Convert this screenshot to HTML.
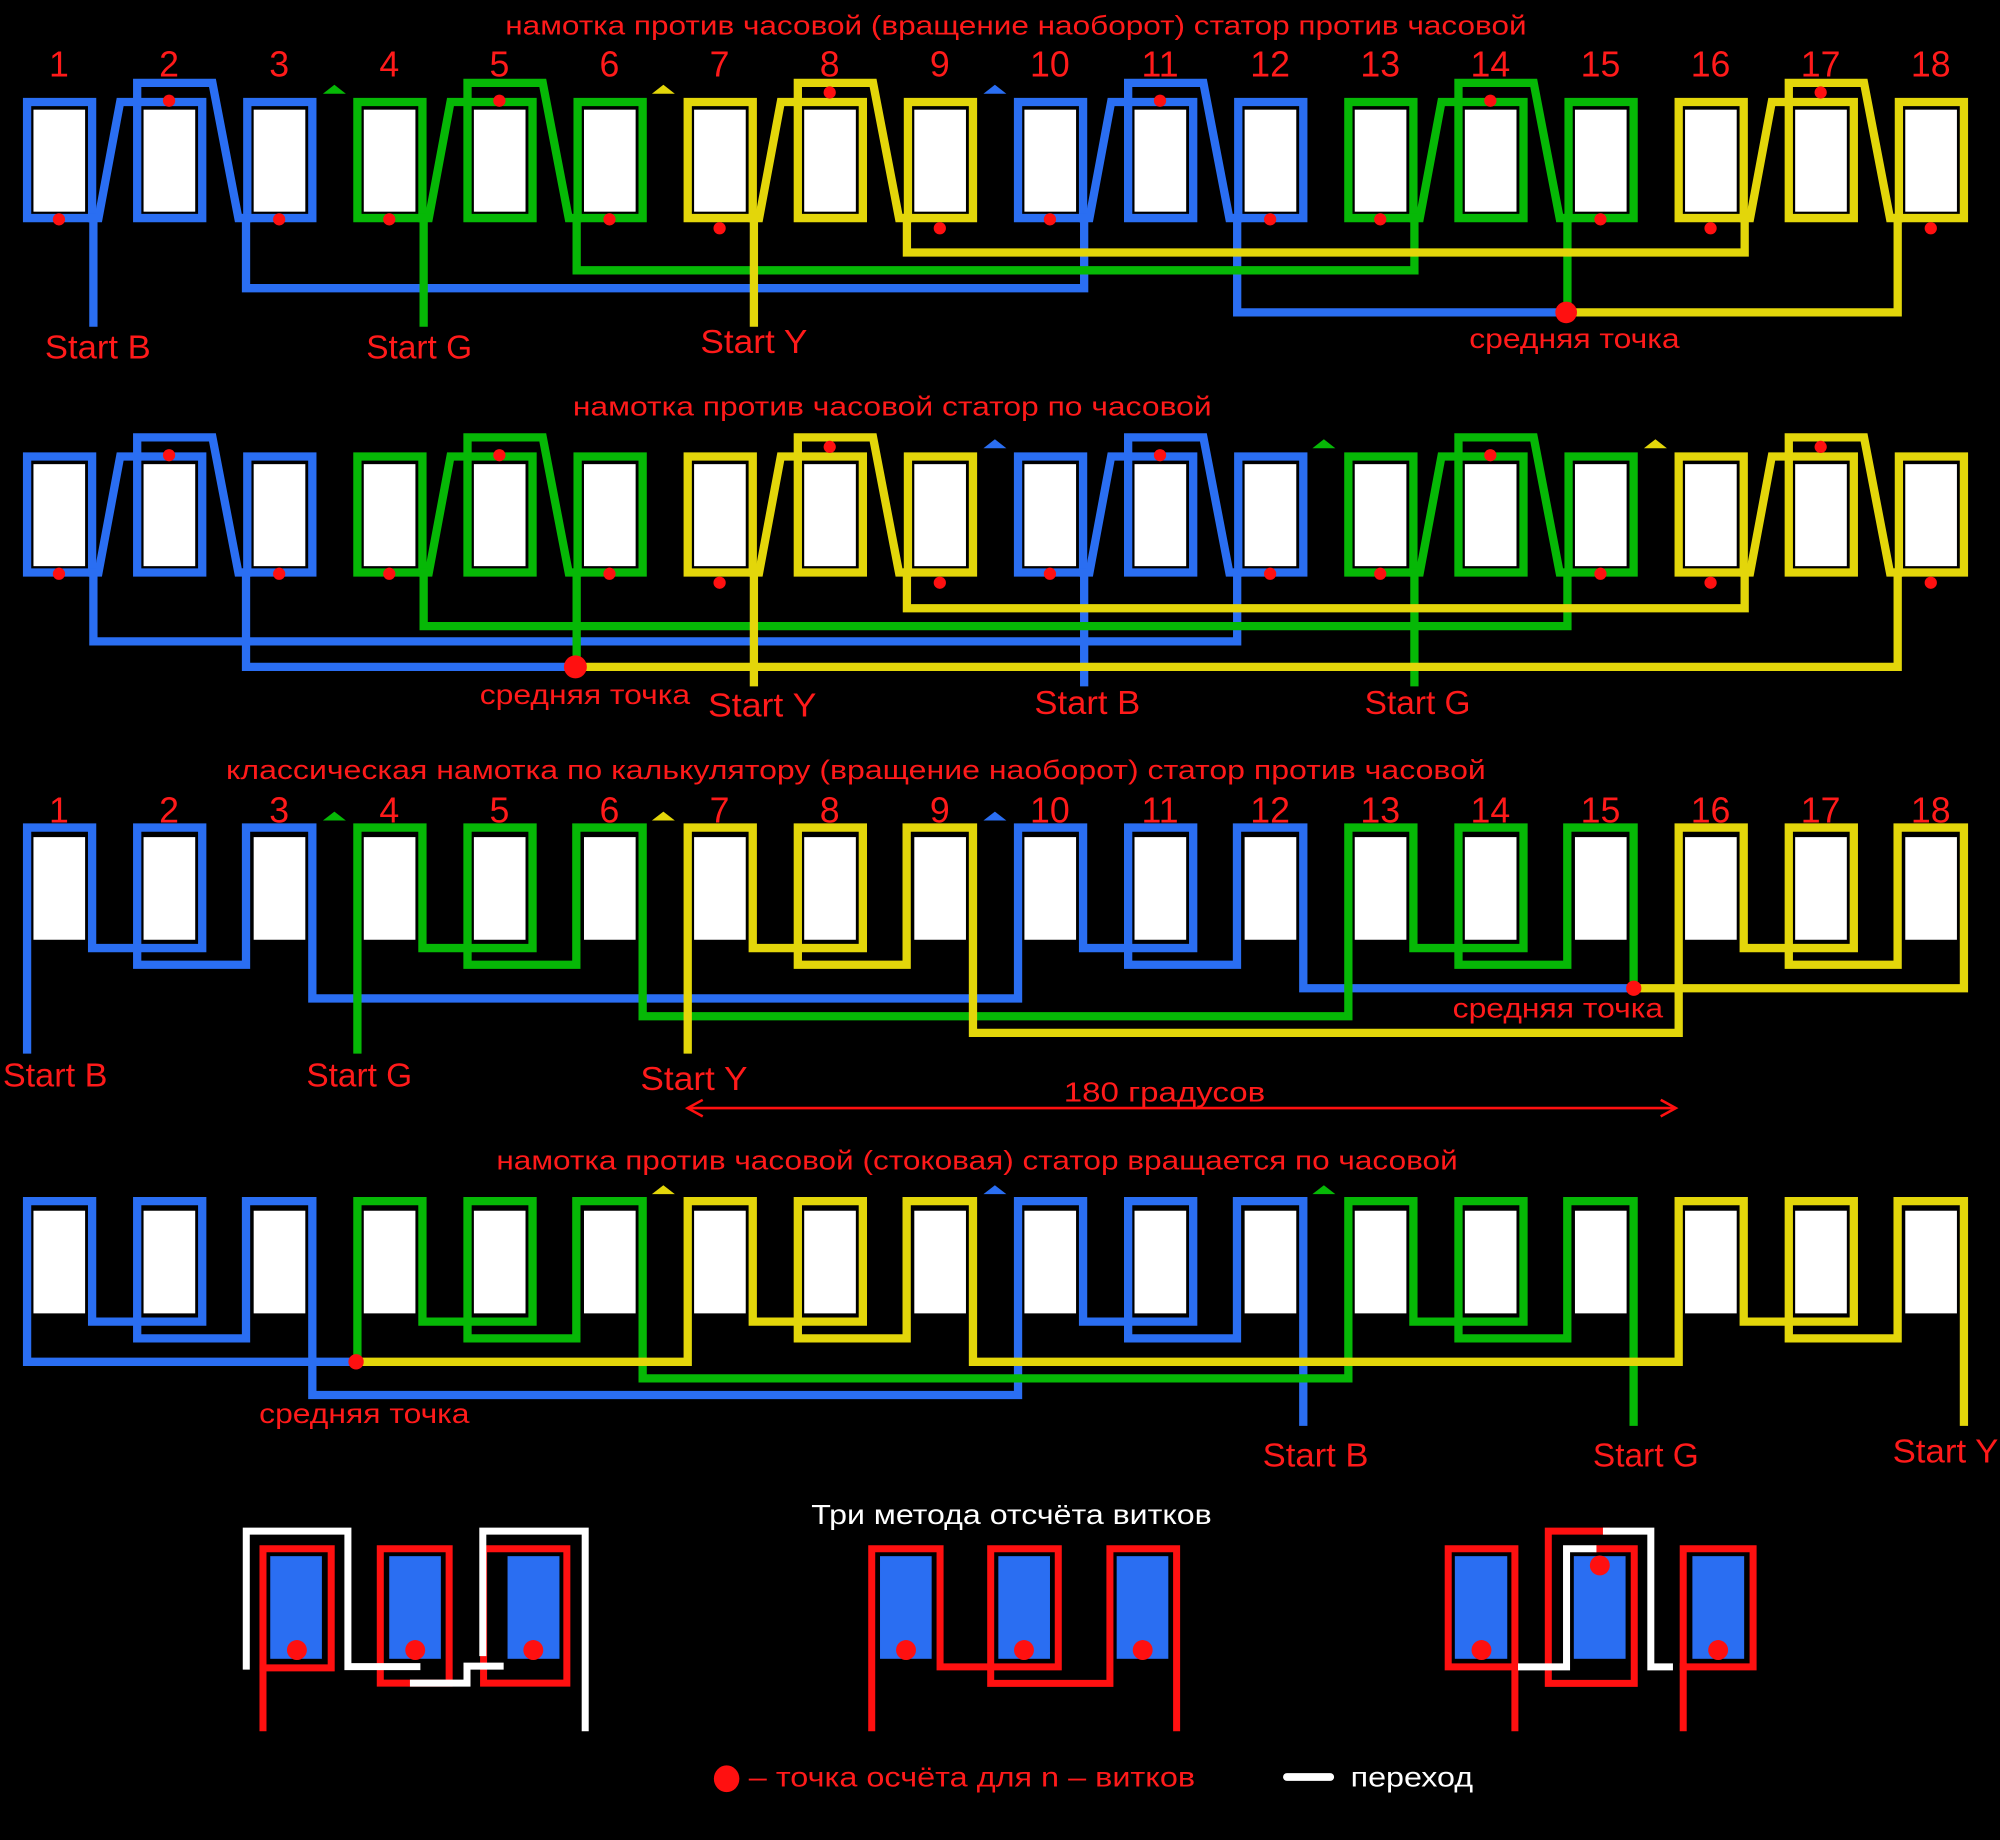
<!DOCTYPE html>
<html><head><meta charset="utf-8">
<style>
html,body{margin:0;padding:0;background:#000;}
svg{display:block;}
text{font-family:"Liberation Sans Narrow","Liberation Sans",sans-serif;}
</style></head>
<body>
<svg id="s" xmlns="http://www.w3.org/2000/svg" width="2000" height="1840" viewBox="0 0 1568 1443">
<rect x="0" y="0" width="1568" height="1443" fill="#000"/>
<g id="shapes"></g>
<g fill="#ff1a1a" font-size="21">
<text x="396" y="27" textLength="801" lengthAdjust="spacingAndGlyphs">намотка против часовой  (вращение наоборот) статор против часовой</text>
<text x="449" y="326" textLength="501" lengthAdjust="spacingAndGlyphs">намотка против часовой  статор по часовой</text>
<text x="177" y="611" textLength="988" lengthAdjust="spacingAndGlyphs">классическая намотка по калькулятору  (вращение наоборот) статор против часовой</text>
<text x="389" y="917" textLength="754" lengthAdjust="spacingAndGlyphs">намотка против часовой (стоковая) статор вращается по часовой</text>
</g>
<g id="nums" fill="#ff1a1a" font-size="28" text-anchor="middle"></g>
<g fill="#ff1a1a" font-size="26">
<text x="35" y="281" textLength="83" lengthAdjust="spacingAndGlyphs">Start B</text>
<text x="287" y="281" textLength="83" lengthAdjust="spacingAndGlyphs">Start G</text>
<text x="549" y="277" textLength="84" lengthAdjust="spacingAndGlyphs">Start Y</text>
<text x="555" y="562" textLength="85" lengthAdjust="spacingAndGlyphs">Start Y</text>
<text x="811" y="560" textLength="83" lengthAdjust="spacingAndGlyphs">Start B</text>
<text x="1070" y="560" textLength="83" lengthAdjust="spacingAndGlyphs">Start G</text>
<text x="2" y="852" textLength="82" lengthAdjust="spacingAndGlyphs">Start B</text>
<text x="240" y="852" textLength="83" lengthAdjust="spacingAndGlyphs">Start G</text>
<text x="502" y="855" textLength="84" lengthAdjust="spacingAndGlyphs">Start Y</text>
<text x="990" y="1150" textLength="83" lengthAdjust="spacingAndGlyphs">Start B</text>
<text x="1249" y="1150" textLength="83" lengthAdjust="spacingAndGlyphs">Start G</text>
<text x="1484" y="1147" textLength="83" lengthAdjust="spacingAndGlyphs">Start Y</text>
</g>
<g fill="#ff1a1a" font-size="22">
<text x="1152" y="273" textLength="165" lengthAdjust="spacingAndGlyphs">средняя точка</text>
<text x="376" y="552" textLength="165" lengthAdjust="spacingAndGlyphs">средняя точка</text>
<text x="1139" y="798" textLength="165" lengthAdjust="spacingAndGlyphs">средняя точка</text>
<text x="203" y="1116" textLength="165" lengthAdjust="spacingAndGlyphs">средняя точка</text>
<text x="834" y="864" textLength="158" lengthAdjust="spacingAndGlyphs">180 градусов</text>
<text x="587" y="1401" textLength="350" lengthAdjust="spacingAndGlyphs">– точка осчёта для  n – витков</text>
</g>
<text x="636" y="1195" fill="#fff" font-size="22" textLength="314" lengthAdjust="spacingAndGlyphs">Три метода отсчёта витков</text>
<text x="1059" y="1401" fill="#fff" font-size="22" textLength="96" lengthAdjust="spacingAndGlyphs">переход</text>
</svg>
<script>
(function(){
var NS="http://www.w3.org/2000/svg";
var G=document.getElementById("shapes");
function el(t,a,p){var e=document.createElementNS(NS,t);for(var k in a)e.setAttribute(k,a[k]);(p||G).appendChild(e);return e;}
var B="#2a6ef2",GR="#06b806",Y="#e3d60a",R="#ff1010",W="#ffffff";
function cx(i){return 46+(i-1)*86.35;}
function path(d,c,w){el("path",{d:d,fill:"none",stroke:c,"stroke-width":w||6.5,"stroke-linejoin":"miter","stroke-linecap":"square"});}
function tri(x,y,c){el("polygon",{points:(x-9)+","+(y+3.5)+" "+x+","+(y-3.5)+" "+(x+9)+","+(y+3.5),fill:c});}
function dot(x,y,r,c){el("circle",{cx:x,cy:y,r:r,fill:c});}
var col=function(i){var g=Math.floor((i-1)/3)%3;return [B,GR,Y][g];};
// nums
var N=document.getElementById("nums");
for(var i=1;i<=18;i++){[60,645].forEach(function(y){var t=el("text",{x:cx(i),y:y},N);t.textContent=i;});}
// sections 1,2 : lapped coils
[0,278].forEach(function(dy){
 for(var i=1;i<=18;i++) el("rect",{x:cx(i)-20,y:86+dy,width:40.5,height:80,fill:"#fff"});
 for(var g=0;g<6;g++){
  var a=cx(g*3+1),b=cx(g*3+2),c=cx(g*3+3),k=col(g*3+1);
  var T=80+dy,Bt=171+dy,O=65+dy;
  path("M"+(a-25)+","+T+"H"+(a+26)+"V"+Bt+"H"+(a-25)+"Z",k);
  path("M"+(b-25)+","+T+"H"+(b+26)+"V"+Bt+"H"+(b-25)+"Z",k);
  path("M"+(c-25)+","+T+"H"+(c+26)+"V"+Bt+"H"+(c-25)+"Z",k);
  path("M"+(a+26)+","+Bt+"H"+(a+31)+"L"+(a+48)+","+T+"H"+(b-25),k);
  path("M"+(b-25)+","+T+"V"+O+"H"+(b+34)+"L"+(c-32)+","+Bt+"H"+(c-25),k);
 }
 for(var i=1;i<=18;i++){
  var p=(i-1)%3,k=col(i),y=(k===Y);
  if(p==1) dot(cx(i),(y?72.5:79)+dy,4.8,R); else dot(cx(i),(y?179:172)+dy,4.8,R);
 }
});
// section1 leads
path("M73,253V171",B);path("M192.7,171V226H850V171",B);path("M970,171V245H1228",B);
path("M332,253V171",GR);path("M452,171V212H1109V171",GR);path("M1229,171V245",GR);
path("M591,253V171",Y);path("M711,171V198H1368V171",Y);path("M1488,171V245H1228",Y);
dot(1228,245,8.5,R);
tri(262,70,GR);tri(520,70,Y);tri(780,70,B);
// section2 leads
path("M73,449V503H970V449",B);path("M192.7,449V523H451",B);path("M850,449V535",B);
path("M332,449V491H1229V449",GR);path("M452,449V523",GR);path("M1109,449V535",GR);
path("M591,449V535",Y);path("M711,449V477H1368V449",Y);path("M1488,449V523H451",Y);
dot(451,523,9,R);
tri(780,348,B);tri(1038,348,GR);tri(1298,348,Y);
// sections 3,4 : classic
function classic(dy){
 for(var i=1;i<=18;i++) el("rect",{x:cx(i)-20,y:656.5+dy,width:40.5,height:80.5,fill:"#fff"});
 var gp=[];
 for(var g=0;g<6;g++){
  var a=cx(g*3+1),b=cx(g*3+2),c=cx(g*3+3);
  gp.push({s:a-25,d:"V"+(649+dy)+"H"+(a+26)+"V"+(743.5+dy)+"H"+(b+26)+"V"+(649+dy)+"H"+(b-25)+"V"+(756.6+dy)+"H"+(c-26)+"V"+(649+dy)+"H"+(c+26),e:c+26});
 }
 return gp;
}
var g3=classic(0);
path("M"+g3[0].s+",823"+g3[0].d+"V783H"+g3[3].s+g3[3].d+"V775H1281",B);
path("M"+g3[1].s+",823"+g3[1].d+"V797H"+g3[4].s+g3[4].d+"V775",GR);
path("M"+g3[2].s+",823"+g3[2].d+"V810H"+g3[5].s+g3[5].d+"V775H1281",Y);
dot(1281,775,6,R);
tri(262,640,GR);tri(520,640,Y);tri(780,640,B);
var g4=classic(293);
path("M279,1068H"+g4[0].s+g4[0].d+"V1094H"+g4[3].s+g4[3].d+"V1115",B);
path("M279,1068H"+g4[1].s+g4[1].d+"V1081H"+g4[4].s+g4[4].d+"V1115",GR);
path("M279,1068H"+g4[2].s+g4[2].d+"V1068H"+g4[5].s+g4[5].d+"V1115",Y);
dot(279,1068,6,R);
tri(520,933,Y);tri(780,933,B);tri(1038,933,GR);
// arrow
el("line",{x1:539,y1:869,x2:1314,y2:869,stroke:R,"stroke-width":2});
path("M550,863L539,869L550,875",R,2);path("M1303,863L1314,869L1303,875",R,2);
// bottom diagram 1
function blue(x1,x2){el("rect",{x:x1,y:1220.4,width:x2-x1,height:80.5,fill:B});}
blue(211.7,252.2);blue(305,345.5);blue(397.8,438.5);
path("M206,1214.6H259.5V1308H206Z",R,5.5);path("M206,1308V1355",R,5.5);
path("M298,1214.6H352V1320H298Z",R,5.5);
path("M379,1214.6H444.3V1320H379Z",R,5.5);
dot(232.6,1294,7.8,R);dot(325.4,1294,7.8,R);dot(418,1294,7.8,R);
path("M192.9,1306.6V1200.8H272.6V1307H326.7",W,5.5);
path("M324,1320H366V1306.6H392",W,5.5);
path("M378.4,1296V1200.8H458.7V1355",W,5.5);
// diagram 2
blue(689.9,730.4);blue(782.7,823.2);blue(875.5,916);
path("M683.4,1355V1214.6H737V1307.2H829.7V1214.6H776.7V1320.2H870.2V1214.6H922.5V1355",R,5.5);
dot(710.3,1294,7.8,R);dot(802.8,1294,7.8,R);dot(895.9,1294,7.8,R);
// diagram 3
blue(1140.7,1181.8);blue(1234,1274.6);blue(1327,1367.6);
path("M1135.5,1214.6H1187.8V1307.2H1135.5Z",R,5.5);path("M1187.8,1307V1355",R,5.5);
path("M1259.6,1200.8H1214V1320.2H1281.4V1214.6H1253.1",R,5.5);
path("M1319.8,1214.6H1374.6V1307.2H1319.8Z",R,5.5);path("M1319.8,1307V1355",R,5.5);
path("M1193,1307.2H1228.3V1214.6H1249",W,5.5);
path("M1259.6,1200.8H1294.4V1307.2H1309",W,5.5);
dot(1161.6,1294,7.8,R);dot(1254.4,1227.7,7.8,R);dot(1347.2,1294,7.8,R);
// legend
el("ellipse",{cx:569.6,cy:1395,rx:10,ry:10.5,fill:R});
el("line",{x1:1009,y1:1393.6,x2:1043,y2:1393.6,stroke:W,"stroke-width":6,"stroke-linecap":"round"});
})();
</script>
</body></html>
